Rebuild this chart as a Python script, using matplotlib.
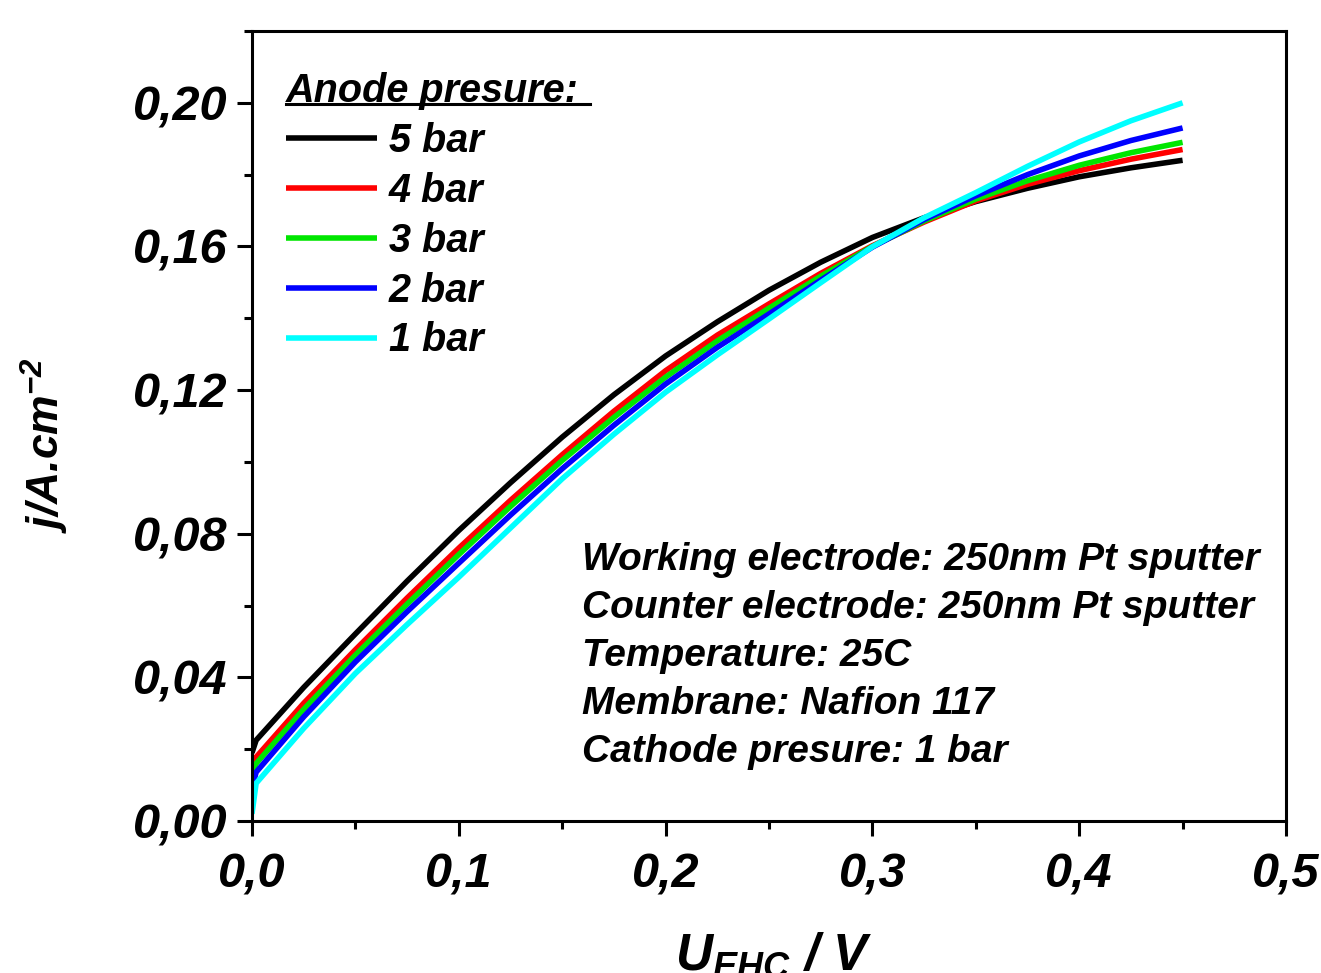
import matplotlib
matplotlib.use("Agg")
import matplotlib.pyplot as plt
from matplotlib.lines import Line2D
from matplotlib.ticker import MultipleLocator, FuncFormatter

# ---- data ----
u_volts = [0.0, 0.002, 0.025, 0.05, 0.075, 0.10, 0.125, 0.15, 0.175, 0.20, 0.225,
           0.25, 0.275, 0.30, 0.325, 0.35, 0.375, 0.40, 0.425, 0.45]
j_5bar = [0.019, 0.0225, 0.0372, 0.0521, 0.0668, 0.0809, 0.0942, 0.1069, 0.1187, 0.1295, 0.1390,
          0.1478, 0.1556, 0.1625, 0.1680, 0.1725, 0.1762, 0.1794, 0.1819, 0.1840]
j_4bar = [0.015, 0.0178, 0.0328, 0.0477, 0.0621, 0.0760, 0.0893, 0.1020, 0.1141, 0.1254, 0.1353,
          0.1440, 0.1525, 0.1602, 0.1668, 0.1727, 0.1773, 0.1811, 0.1843, 0.1870]
j_3bar = [0.013, 0.0160, 0.0311, 0.0462, 0.0604, 0.0742, 0.0876, 0.1004, 0.1124, 0.1236, 0.1337,
          0.1428, 0.1517, 0.1600, 0.1671, 0.1732, 0.1783, 0.1826, 0.1861, 0.1890]
j_2bar = [0.009, 0.0136, 0.0290, 0.0443, 0.0583, 0.0718, 0.0852, 0.0981, 0.1102, 0.1217, 0.1319,
          0.1412, 0.1506, 0.1598, 0.1675, 0.1741, 0.1800, 0.1852, 0.1895, 0.1930]
j_1bar = [0.002, 0.0105, 0.0258, 0.0411, 0.0547, 0.0679, 0.0816, 0.0953, 0.1077, 0.1194, 0.1298,
          0.1398, 0.1499, 0.1599, 0.1680, 0.1750, 0.1823, 0.1891, 0.1950, 0.2000]
series_labels = ["5 bar", "4 bar", "3 bar", "2 bar", "1 bar"]
series_colors = ["#000000", "#ff0000", "#00e600", "#0000ff", "#00ffff"]
info_lines = [
    "Working electrode: 250nm Pt sputter",
    "Counter electrode: 250nm Pt sputter",
    "Temperature: 25C",
    "Membrane: Nafion 117",
    "Cathode presure: 1 bar",
]

FONT = "Liberation Sans"
plt.rcParams["font.family"] = [FONT, "DejaVu Sans"]
plt.rcParams["font.weight"] = "bold"
plt.rcParams["font.style"] = "italic"
plt.rcParams["mathtext.fontset"] = "custom"
plt.rcParams["mathtext.rm"] = "Liberation Sans:bold:italic"
plt.rcParams["mathtext.it"] = "Liberation Sans:bold:italic"
plt.rcParams["mathtext.bf"] = "Liberation Sans:bold:italic"

W, H = 1321, 973
fig = plt.figure(figsize=(W / 100, H / 100), dpi=100)
ax = fig.add_axes([252 / W, 1 - 821 / H, (1286 - 252) / W, (821 - 31) / H])

series = [j_5bar, j_4bar, j_3bar, j_2bar, j_1bar]
handles = []
for ys, lab, col in zip(series, series_labels, series_colors):
    h, = ax.plot(u_volts, ys, color=col, lw=4.0, label=lab,
                 solid_capstyle="butt", solid_joinstyle="round")
    handles.append(h)

ax.set_xlim(0, 0.5)
ax.set_ylim(0, 0.22)
ax.xaxis.set_major_locator(MultipleLocator(0.1))
ax.xaxis.set_minor_locator(MultipleLocator(0.05))
ax.yaxis.set_major_locator(MultipleLocator(0.04))
ax.yaxis.set_minor_locator(MultipleLocator(0.02))
ax.xaxis.set_major_formatter(FuncFormatter(lambda v, p: f"{v:.1f}".replace(".", ",")))
ax.yaxis.set_major_formatter(FuncFormatter(lambda v, p: f"{v:.2f}".replace(".", ",")))

for s in ax.spines.values():
    s.set_linewidth(2.2)
ax.tick_params(which="major", direction="out", length=10.8, width=2.2, labelsize=35)
ax.tick_params(which="minor", direction="out", length=5.8, width=2.2)
ax.tick_params(axis="x", which="major", pad=12)
ax.tick_params(axis="y", which="major", pad=6.5)
for t in ax.get_xticklabels() + ax.get_yticklabels():
    t.set_fontweight("bold")
    t.set_fontstyle("italic")

leg = ax.legend(handles=handles, labels=series_labels, loc="upper left",
                bbox_to_anchor=(286 / W, 1 - 72 / H), bbox_transform=fig.transFigure,
                frameon=False, fontsize=28.5, handlelength=2.3, handletextpad=0.3,
                labelspacing=0.3, borderpad=0, borderaxespad=0,
                title="Anode presure: ", alignment="left",
                title_fontproperties={"family": FONT, "weight": "bold",
                                      "style": "italic", "size": 28.5})
for t in leg.get_texts():
    t.set_fontweight("bold")
    t.set_fontstyle("italic")

for i, line in enumerate(info_lines):
    fig.text(582 / W, 1 - (570 + 48 * i) / H, line, fontsize=28, fontweight="bold",
             fontstyle="italic", ha="left", va="baseline")

fig.text(45 / W, 1 - 445 / H, r"j/A.cm$^{\mathrm{-2}}$", rotation=90, fontsize=32,
         fontweight="bold", fontstyle="italic", ha="center", va="center")
fig.text(774 / W, 1 - 931 / H, r"U$_{\mathrm{EHC}}$ / V", fontsize=37,
         fontweight="bold", fontstyle="italic", ha="center", va="top")

# underline the legend title
fig.canvas.draw()
bb = leg.get_title().get_window_extent()
yline = bb.y0 + 6
fig.add_artist(Line2D([bb.x0 / W, bb.x1 / W], [yline / H, yline / H],
                      transform=fig.transFigure, color="black", lw=2.2))

fig.savefig("out.png", dpi=100)
